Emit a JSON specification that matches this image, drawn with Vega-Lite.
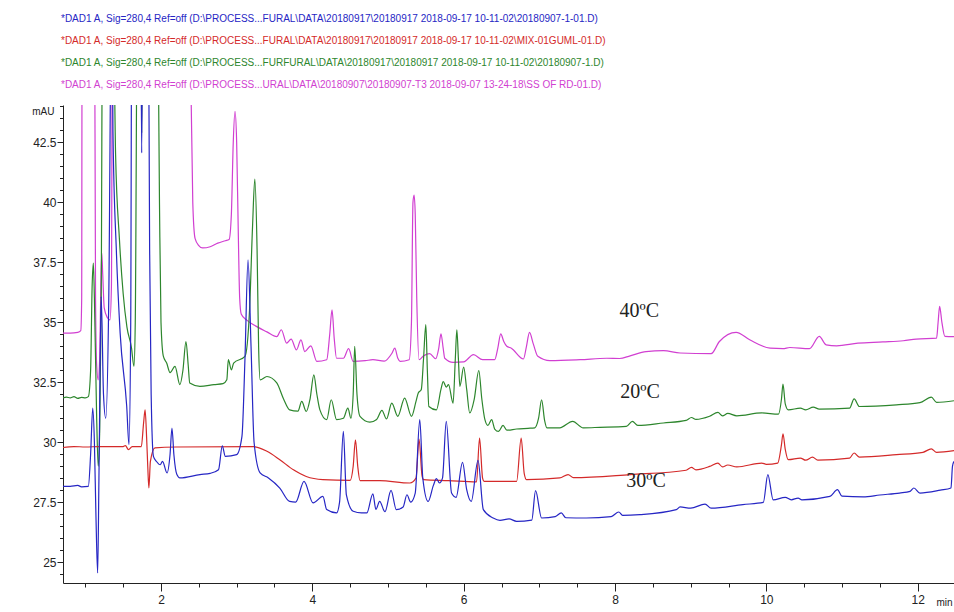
{
  "$schema": "https://vega.github.io/schema/vega-lite/v6.json",
  "width": 891,
  "height": 478,
  "autosize": {"type": "none"},
  "padding": {"left": 63, "top": 105, "right": 0, "bottom": 29},
  "background": "white",
  "config": {"view": {"stroke": null}, "font": "Liberation Sans, Arial, sans-serif"},
  "datasets": {
    "names": [
      {"s": "b", "name": "*DAD1 A, Sig=280,4 Ref=off (D:\\PROCESS...FURAL\\DATA\\20180917\\20180917 2018-09-17 10-11-02\\20180907-1-01.D)"},
      {"s": "r", "name": "*DAD1 A, Sig=280,4 Ref=off (D:\\PROCESS...FURAL\\DATA\\20180917\\20180917 2018-09-17 10-11-02\\MIX-01GUML-01.D)"},
      {"s": "g", "name": "*DAD1 A, Sig=280,4 Ref=off (D:\\PROCESS...FURFURAL\\DATA\\20180917\\20180917 2018-09-17 10-11-02\\20180907-1.D)"},
      {"s": "m", "name": "*DAD1 A, Sig=280,4 Ref=off (D:\\PROCESS...URAL\\DATA\\20180907\\20180907-T3 2018-09-07 13-24-18\\SS OF RD-01.D)"}
    ],
    "pts": [
      {"s":"m","x":0.705,"y":34.55},{"s":"m","x":0.80,"y":34.55},{"s":"m","x":0.90,"y":34.58},{"s":"m","x":0.94,"y":34.65},{"s":"m","x":0.952,"y":36},{"s":"m","x":0.958,"y":50},{"s":"m","x":1.12,"y":50},{"s":"m","x":1.135,"y":36},{"s":"m","x":1.15,"y":33.2},{"s":"m","x":1.17,"y":32.6},{"s":"m","x":1.19,"y":33.5},{"s":"m","x":1.205,"y":36.5},{"s":"m","x":1.217,"y":37.9},{"s":"m","x":1.23,"y":37.0},{"s":"m","x":1.25,"y":35.6},{"s":"m","x":1.29,"y":35.2},{"s":"m","x":1.326,"y":35.1},{"s":"m","x":1.345,"y":36.5},{"s":"m","x":1.36,"y":50},{"s":"m","x":2.38,"y":50},{"s":"m","x":2.40,"y":44},{"s":"m","x":2.42,"y":40.0},{"s":"m","x":2.45,"y":38.5},{"s":"m","x":2.5,"y":38.2},{"s":"m","x":2.55,"y":38.1},{"s":"m","x":2.65,"y":38.15},{"s":"m","x":2.75,"y":38.3},{"s":"m","x":2.85,"y":38.4},{"s":"m","x":2.9,"y":38.45},{"s":"m","x":2.93,"y":39.5},{"s":"m","x":2.955,"y":42.5},{"s":"m","x":2.978,"y":43.8},{"s":"m","x":3.0,"y":42.5},{"s":"m","x":3.02,"y":39},{"s":"m","x":3.04,"y":36},{"s":"m","x":3.06,"y":35.35},{"s":"m","x":3.13,"y":35.1},{"s":"m","x":3.26,"y":34.83},{"s":"m","x":3.40,"y":34.6},{"s":"m","x":3.53,"y":34.4},{"s":"m","x":3.59,"y":34.69},{"s":"m","x":3.66,"y":34.13},{"s":"m","x":3.72,"y":34.3},{"s":"m","x":3.79,"y":33.85},{"s":"m","x":3.85,"y":34.27},{"s":"m","x":3.90,"y":33.78},{"s":"m","x":3.98,"y":34.02},{"s":"m","x":4.06,"y":33.37},{"s":"m","x":4.19,"y":33.44},{"s":"m","x":4.23,"y":34.5},{"s":"m","x":4.26,"y":35.52},{"s":"m","x":4.29,"y":34.3},{"s":"m","x":4.32,"y":33.5},{"s":"m","x":4.41,"y":33.5},{"s":"m","x":4.48,"y":33.9},{"s":"m","x":4.54,"y":33.37},{"s":"m","x":4.7,"y":33.4},{"s":"m","x":4.8,"y":33.44},{"s":"m","x":4.95,"y":33.38},{"s":"m","x":5.05,"y":33.7},{"s":"m","x":5.09,"y":33.92},{"s":"m","x":5.13,"y":33.5},{"s":"m","x":5.16,"y":33.37},{"s":"m","x":5.28,"y":33.44},{"s":"m","x":5.31,"y":35},{"s":"m","x":5.33,"y":40.0},{"s":"m","x":5.345,"y":40.3},{"s":"m","x":5.36,"y":39.5},{"s":"m","x":5.38,"y":36},{"s":"m","x":5.41,"y":33.44},{"s":"m","x":5.47,"y":33.6},{"s":"m","x":5.55,"y":33.69},{"s":"m","x":5.63,"y":33.48},{"s":"m","x":5.67,"y":33.9},{"s":"m","x":5.70,"y":34.52},{"s":"m","x":5.73,"y":33.9},{"s":"m","x":5.75,"y":33.5},{"s":"m","x":5.86,"y":33.33},{"s":"m","x":6.0,"y":33.35},{"s":"m","x":6.13,"y":33.65},{"s":"m","x":6.25,"y":33.44},{"s":"m","x":6.41,"y":33.44},{"s":"m","x":6.45,"y":33.9},{"s":"m","x":6.49,"y":34.52},{"s":"m","x":6.53,"y":34.2},{"s":"m","x":6.57,"y":34.0},{"s":"m","x":6.63,"y":33.92},{"s":"m","x":6.79,"y":33.47},{"s":"m","x":6.83,"y":34.0},{"s":"m","x":6.87,"y":34.58},{"s":"m","x":6.92,"y":34.1},{"s":"m","x":6.98,"y":33.58},{"s":"m","x":7.14,"y":33.4},{"s":"m","x":7.54,"y":33.44},{"s":"m","x":7.89,"y":33.5},{"s":"m","x":8.06,"y":33.49},{"s":"m","x":8.2,"y":33.6},{"s":"m","x":8.41,"y":33.78},{"s":"m","x":8.64,"y":33.82},{"s":"m","x":8.86,"y":33.72},{"s":"m","x":9.27,"y":33.69},{"s":"m","x":9.38,"y":34.2},{"s":"m","x":9.60,"y":34.58},{"s":"m","x":9.78,"y":34.27},{"s":"m","x":10.05,"y":33.92},{"s":"m","x":10.22,"y":33.9},{"s":"m","x":10.31,"y":33.95},{"s":"m","x":10.57,"y":33.9},{"s":"m","x":10.70,"y":34.41},{"s":"m","x":10.79,"y":34.06},{"s":"m","x":10.93,"y":34.02},{"s":"m","x":11.21,"y":34.13},{"s":"m","x":11.54,"y":34.18},{"s":"m","x":11.81,"y":34.23},{"s":"m","x":11.98,"y":34.3},{"s":"m","x":12.25,"y":34.34},{"s":"m","x":12.27,"y":35.0},{"s":"m","x":12.29,"y":35.66},{"s":"m","x":12.32,"y":35.0},{"s":"m","x":12.36,"y":34.41},{"s":"m","x":12.48,"y":34.4},

      {"s":"g","x":0.705,"y":31.85},{"s":"g","x":0.75,"y":31.88},{"s":"g","x":0.80,"y":31.85},{"s":"g","x":0.85,"y":31.9},{"s":"g","x":0.90,"y":31.83},{"s":"g","x":0.95,"y":31.87},{"s":"g","x":1.0,"y":31.85},{"s":"g","x":1.04,"y":31.9},{"s":"g","x":1.07,"y":33},{"s":"g","x":1.09,"y":36.5},{"s":"g","x":1.106,"y":37.47},{"s":"g","x":1.12,"y":36},{"s":"g","x":1.15,"y":31},{"s":"g","x":1.17,"y":29.0},{"s":"g","x":1.19,"y":30.5},{"s":"g","x":1.21,"y":36},{"s":"g","x":1.23,"y":50},{"s":"g","x":1.36,"y":50},{"s":"g","x":1.40,"y":42},{"s":"g","x":1.45,"y":38.5},{"s":"g","x":1.50,"y":36.2},{"s":"g","x":1.55,"y":34.8},{"s":"g","x":1.61,"y":33.94},{"s":"g","x":1.643,"y":33.16},{"s":"g","x":1.66,"y":35},{"s":"g","x":1.69,"y":50},{"s":"g","x":1.73,"y":50},{"s":"g","x":1.745,"y":42.9},{"s":"g","x":1.76,"y":50},{"s":"g","x":1.95,"y":50},{"s":"g","x":1.98,"y":40},{"s":"g","x":2.0,"y":35},{"s":"g","x":2.03,"y":33.6},{"s":"g","x":2.075,"y":33.3},{"s":"g","x":2.12,"y":32.9},{"s":"g","x":2.185,"y":33.16},{"s":"g","x":2.25,"y":32.4},{"s":"g","x":2.29,"y":33.0},{"s":"g","x":2.33,"y":34.2},{"s":"g","x":2.36,"y":33.2},{"s":"g","x":2.38,"y":32.47},{"s":"g","x":2.515,"y":32.33},{"s":"g","x":2.7,"y":32.4},{"s":"g","x":2.82,"y":32.44},{"s":"g","x":2.87,"y":32.6},{"s":"g","x":2.89,"y":33.44},{"s":"g","x":2.93,"y":33.02},{"s":"g","x":2.96,"y":33.3},{"s":"g","x":3.11,"y":33.58},{"s":"g","x":3.17,"y":35.5},{"s":"g","x":3.21,"y":39},{"s":"g","x":3.24,"y":40.97},{"s":"g","x":3.27,"y":38},{"s":"g","x":3.29,"y":34},{"s":"g","x":3.31,"y":32.6},{"s":"g","x":3.40,"y":32.74},{"s":"g","x":3.53,"y":32.47},{"s":"g","x":3.62,"y":31.8},{"s":"g","x":3.70,"y":31.35},{"s":"g","x":3.81,"y":31.3},{"s":"g","x":3.86,"y":31.7},{"s":"g","x":3.92,"y":31.28},{"s":"g","x":3.97,"y":31.8},{"s":"g","x":4.02,"y":32.81},{"s":"g","x":4.06,"y":32},{"s":"g","x":4.10,"y":31.35},{"s":"g","x":4.19,"y":30.94},{"s":"g","x":4.25,"y":31.77},{"s":"g","x":4.32,"y":30.94},{"s":"g","x":4.41,"y":31.0},{"s":"g","x":4.47,"y":31.42},{"s":"g","x":4.51,"y":31.0},{"s":"g","x":4.54,"y":32},{"s":"g","x":4.56,"y":34.0},{"s":"g","x":4.59,"y":32},{"s":"g","x":4.63,"y":31.08},{"s":"g","x":4.76,"y":30.84},{"s":"g","x":4.85,"y":30.95},{"s":"g","x":4.92,"y":31.33},{"s":"g","x":4.98,"y":30.97},{"s":"g","x":5.05,"y":31.63},{"s":"g","x":5.13,"y":31.08},{"s":"g","x":5.22,"y":31.84},{"s":"g","x":5.31,"y":31.08},{"s":"g","x":5.37,"y":31.7},{"s":"g","x":5.40,"y":32.05},{"s":"g","x":5.44,"y":32.2},{"s":"g","x":5.47,"y":33.5},{"s":"g","x":5.50,"y":34.9},{"s":"g","x":5.52,"y":33},{"s":"g","x":5.54,"y":31.49},{"s":"g","x":5.64,"y":31.35},{"s":"g","x":5.70,"y":32.2},{"s":"g","x":5.73,"y":32.53},{"s":"g","x":5.77,"y":32.3},{"s":"g","x":5.80,"y":32.4},{"s":"g","x":5.86,"y":31.63},{"s":"g","x":5.89,"y":33.5},{"s":"g","x":5.91,"y":34.69},{"s":"g","x":5.93,"y":33.5},{"s":"g","x":5.95,"y":32.33},{"s":"g","x":6.0,"y":33.13},{"s":"g","x":6.04,"y":32.2},{"s":"g","x":6.08,"y":31.22},{"s":"g","x":6.14,"y":31.8},{"s":"g","x":6.20,"y":32.99},{"s":"g","x":6.24,"y":31.8},{"s":"g","x":6.28,"y":30.95},{"s":"g","x":6.32,"y":30.7},{"s":"g","x":6.37,"y":30.94},{"s":"g","x":6.41,"y":30.55},{"s":"g","x":6.46,"y":30.45},{"s":"g","x":6.52,"y":30.7},{"s":"g","x":6.57,"y":30.5},{"s":"g","x":6.7,"y":30.55},{"s":"g","x":6.85,"y":30.58},{"s":"g","x":6.94,"y":30.6},{"s":"g","x":6.99,"y":31.0},{"s":"g","x":7.03,"y":31.77},{"s":"g","x":7.07,"y":30.9},{"s":"g","x":7.10,"y":30.6},{"s":"g","x":7.27,"y":30.6},{"s":"g","x":7.44,"y":30.87},{"s":"g","x":7.58,"y":30.6},{"s":"g","x":7.8,"y":30.62},{"s":"g","x":8.15,"y":30.66},{"s":"g","x":8.23,"y":30.87},{"s":"g","x":8.3,"y":30.7},{"s":"g","x":8.64,"y":30.8},{"s":"g","x":8.94,"y":30.91},{"s":"g","x":9.01,"y":31.03},{"s":"g","x":9.07,"y":30.95},{"s":"g","x":9.25,"y":31.08},{"s":"g","x":9.36,"y":31.24},{"s":"g","x":9.42,"y":31.1},{"s":"g","x":9.49,"y":31.2},{"s":"g","x":9.61,"y":31.1},{"s":"g","x":9.94,"y":31.22},{"s":"g","x":10.16,"y":31.17},{"s":"g","x":10.20,"y":31.8},{"s":"g","x":10.22,"y":32.42},{"s":"g","x":10.25,"y":31.6},{"s":"g","x":10.29,"y":31.35},{"s":"g","x":10.45,"y":31.42},{"s":"g","x":10.52,"y":31.35},{"s":"g","x":10.62,"y":31.46},{"s":"g","x":10.70,"y":31.38},{"s":"g","x":11.10,"y":31.42},{"s":"g","x":11.16,"y":31.81},{"s":"g","x":11.23,"y":31.49},{"s":"g","x":11.72,"y":31.56},{"s":"g","x":12.03,"y":31.65},{"s":"g","x":12.18,"y":31.88},{"s":"g","x":12.25,"y":31.66},{"s":"g","x":12.48,"y":31.73},

      {"s":"r","x":0.705,"y":29.78},{"s":"r","x":0.85,"y":29.82},{"s":"r","x":1.0,"y":29.8},{"s":"r","x":1.2,"y":29.82},{"s":"r","x":1.5,"y":29.82},{"s":"r","x":1.53,"y":29.86},{"s":"r","x":1.57,"y":29.69},{"s":"r","x":1.62,"y":29.82},{"s":"r","x":1.74,"y":29.82},{"s":"r","x":1.77,"y":30.8},{"s":"r","x":1.79,"y":31.35},{"s":"r","x":1.81,"y":30.2},{"s":"r","x":1.825,"y":29.0},{"s":"r","x":1.84,"y":28.09},{"s":"r","x":1.86,"y":29.2},{"s":"r","x":1.92,"y":29.76},{"s":"r","x":2.2,"y":29.8},{"s":"r","x":3.22,"y":29.82},{"s":"r","x":3.40,"y":29.62},{"s":"r","x":3.57,"y":29.27},{"s":"r","x":3.75,"y":28.85},{"s":"r","x":3.92,"y":28.57},{"s":"r","x":4.14,"y":28.44},{"s":"r","x":4.50,"y":28.41},{"s":"r","x":4.54,"y":29},{"s":"r","x":4.57,"y":30.1},{"s":"r","x":4.60,"y":29},{"s":"r","x":4.63,"y":28.4},{"s":"r","x":4.89,"y":28.4},{"s":"r","x":5.29,"y":28.3},{"s":"r","x":5.37,"y":28.5},{"s":"r","x":5.41,"y":30.13},{"s":"r","x":5.45,"y":28.6},{"s":"r","x":5.47,"y":28.44},{"s":"r","x":5.8,"y":28.4},{"s":"r","x":6.17,"y":28.35},{"s":"r","x":6.21,"y":30.17},{"s":"r","x":6.25,"y":28.5},{"s":"r","x":6.27,"y":28.37},{"s":"r","x":6.70,"y":28.37},{"s":"r","x":6.76,"y":30.17},{"s":"r","x":6.80,"y":28.7},{"s":"r","x":6.83,"y":28.44},{"s":"r","x":7.27,"y":28.51},{"s":"r","x":7.38,"y":28.65},{"s":"r","x":7.45,"y":28.52},{"s":"r","x":8.2,"y":28.65},{"s":"r","x":8.94,"y":28.83},{"s":"r","x":9.01,"y":28.95},{"s":"r","x":9.07,"y":28.85},{"s":"r","x":9.25,"y":28.99},{"s":"r","x":9.36,"y":29.13},{"s":"r","x":9.42,"y":28.97},{"s":"r","x":9.49,"y":29.05},{"s":"r","x":9.61,"y":28.97},{"s":"r","x":9.94,"y":29.13},{"s":"r","x":10.0,"y":29.08},{"s":"r","x":10.15,"y":29.13},{"s":"r","x":10.2,"y":29.9},{"s":"r","x":10.22,"y":30.35},{"s":"r","x":10.25,"y":29.7},{"s":"r","x":10.29,"y":29.27},{"s":"r","x":10.45,"y":29.34},{"s":"r","x":10.52,"y":29.25},{"s":"r","x":10.61,"y":29.38},{"s":"r","x":10.68,"y":29.25},{"s":"r","x":11.10,"y":29.34},{"s":"r","x":11.16,"y":29.55},{"s":"r","x":11.23,"y":29.38},{"s":"r","x":11.72,"y":29.48},{"s":"r","x":12.07,"y":29.58},{"s":"r","x":12.18,"y":29.72},{"s":"r","x":12.25,"y":29.58},{"s":"r","x":12.48,"y":29.65},

      {"s":"b","x":0.705,"y":28.16},{"s":"b","x":0.8,"y":28.16},{"s":"b","x":0.9,"y":28.2},{"s":"b","x":0.95,"y":28.14},{"s":"b","x":1.04,"y":28.16},{"s":"b","x":1.07,"y":29.5},{"s":"b","x":1.098,"y":31.42},{"s":"b","x":1.12,"y":30},{"s":"b","x":1.14,"y":27},{"s":"b","x":1.163,"y":24.55},{"s":"b","x":1.18,"y":28.5},{"s":"b","x":1.21,"y":36.07},{"s":"b","x":1.24,"y":32},{"s":"b","x":1.27,"y":31},{"s":"b","x":1.31,"y":36},{"s":"b","x":1.35,"y":50},{"s":"b","x":1.365,"y":43},{"s":"b","x":1.41,"y":38},{"s":"b","x":1.46,"y":34.56},{"s":"b","x":1.547,"y":31.5},{"s":"b","x":1.577,"y":29.9},{"s":"b","x":1.60,"y":35},{"s":"b","x":1.615,"y":50},{"s":"b","x":1.73,"y":50},{"s":"b","x":1.745,"y":42.06},{"s":"b","x":1.76,"y":50},{"s":"b","x":1.83,"y":50},{"s":"b","x":1.85,"y":38},{"s":"b","x":1.87,"y":32},{"s":"b","x":1.90,"y":29.41},{"s":"b","x":1.94,"y":29.2},{"s":"b","x":1.99,"y":29.06},{"s":"b","x":2.02,"y":29.2},{"s":"b","x":2.08,"y":28.72},{"s":"b","x":2.12,"y":29.5},{"s":"b","x":2.145,"y":30.59},{"s":"b","x":2.17,"y":29.5},{"s":"b","x":2.21,"y":28.65},{"s":"b","x":2.25,"y":28.51},{"s":"b","x":2.515,"y":28.65},{"s":"b","x":2.65,"y":28.7},{"s":"b","x":2.76,"y":28.85},{"s":"b","x":2.81,"y":29.85},{"s":"b","x":2.85,"y":29.41},{"s":"b","x":3.0,"y":29.48},{"s":"b","x":3.07,"y":30.24},{"s":"b","x":3.11,"y":33.5},{"s":"b","x":3.15,"y":37.6},{"s":"b","x":3.19,"y":34},{"s":"b","x":3.23,"y":30},{"s":"b","x":3.31,"y":28.72},{"s":"b","x":3.42,"y":28.51},{"s":"b","x":3.57,"y":28.09},{"s":"b","x":3.70,"y":27.53},{"s":"b","x":3.78,"y":27.5},{"s":"b","x":3.89,"y":28.37},{"s":"b","x":4.01,"y":27.47},{"s":"b","x":4.14,"y":27.74},{"s":"b","x":4.19,"y":27.19},{"s":"b","x":4.32,"y":27.05},{"s":"b","x":4.36,"y":27.5},{"s":"b","x":4.41,"y":30.45},{"s":"b","x":4.45,"y":27.8},{"s":"b","x":4.54,"y":27.12},{"s":"b","x":4.65,"y":27.05},{"s":"b","x":4.72,"y":27.05},{"s":"b","x":4.80,"y":27.85},{"s":"b","x":4.84,"y":27.2},{"s":"b","x":4.89,"y":27.53},{"s":"b","x":4.96,"y":27.1},{"s":"b","x":5.04,"y":27.99},{"s":"b","x":5.11,"y":27.19},{"s":"b","x":5.2,"y":27.3},{"s":"b","x":5.25,"y":27.81},{"s":"b","x":5.3,"y":27.5},{"s":"b","x":5.36,"y":27.88},{"s":"b","x":5.42,"y":30.94},{"s":"b","x":5.46,"y":28.5},{"s":"b","x":5.53,"y":27.53},{"s":"b","x":5.6,"y":28.2},{"s":"b","x":5.64,"y":28.48},{"s":"b","x":5.68,"y":28.3},{"s":"b","x":5.72,"y":28.5},{"s":"b","x":5.77,"y":30.87},{"s":"b","x":5.84,"y":27.88},{"s":"b","x":5.9,"y":27.7},{"s":"b","x":5.985,"y":29.16},{"s":"b","x":6.04,"y":28.02},{"s":"b","x":6.10,"y":27.53},{"s":"b","x":6.19,"y":29.24},{"s":"b","x":6.26,"y":27.19},{"s":"b","x":6.39,"y":26.84},{"s":"b","x":6.48,"y":26.74},{"s":"b","x":6.6,"y":26.8},{"s":"b","x":6.70,"y":26.7},{"s":"b","x":6.90,"y":26.75},{"s":"b","x":6.95,"y":27.98},{"s":"b","x":7.03,"y":26.84},{"s":"b","x":7.21,"y":26.9},{"s":"b","x":7.29,"y":27.05},{"s":"b","x":7.35,"y":26.85},{"s":"b","x":7.62,"y":26.84},{"s":"b","x":7.95,"y":26.9},{"s":"b","x":8.05,"y":27.09},{"s":"b","x":8.1,"y":26.95},{"s":"b","x":8.33,"y":26.98},{"s":"b","x":8.81,"y":27.19},{"s":"b","x":8.86,"y":27.3},{"s":"b","x":9.0,"y":27.25},{"s":"b","x":9.19,"y":27.42},{"s":"b","x":9.27,"y":27.25},{"s":"b","x":9.69,"y":27.40},{"s":"b","x":9.96,"y":27.49},{"s":"b","x":10.02,"y":28.65},{"s":"b","x":10.09,"y":27.6},{"s":"b","x":10.25,"y":27.7},{"s":"b","x":10.33,"y":27.6},{"s":"b","x":10.42,"y":27.67},{"s":"b","x":10.47,"y":27.6},{"s":"b","x":10.84,"y":27.74},{"s":"b","x":10.94,"y":28.02},{"s":"b","x":11.0,"y":27.75},{"s":"b","x":11.28,"y":27.72},{"s":"b","x":11.5,"y":27.8},{"s":"b","x":11.76,"y":27.88},{"s":"b","x":11.9,"y":27.95},{"s":"b","x":11.95,"y":28.09},{"s":"b","x":12.03,"y":27.88},{"s":"b","x":12.3,"y":28.0},{"s":"b","x":12.44,"y":28.09},{"s":"b","x":12.46,"y":29.0},{"s":"b","x":12.48,"y":29.2}
    ],
    "labels": [
      {"x": 8.06, "y": 35.22, "t": "40ºC"},
      {"x": 8.07, "y": 31.85, "t": "20ºC"},
      {"x": 8.15, "y": 28.15, "t": "30ºC"}
    ]
  },
  "resolve": {"axis": {"x": "independent", "y": "independent"}},
  "layer": [
    {
      "data": {"name": "pts"},
      "transform": [{"lookup": "s", "from": {"data": {"name": "names"}, "key": "s", "fields": ["name"]}}],
      "mark": {"type": "line", "strokeWidth": 1.2, "clip": true, "interpolate": "monotone"},
      "encoding": {
        "x": {"field": "x", "type": "quantitative",
          "scale": {"domain": [0.705, 12.48], "nice": false, "zero": false},
          "axis": {"orient": "bottom", "values": [2, 4, 6, 8, 10, 12], "tickSize": 8, "tickColor": "#222", "domainColor": "#222",
            "labelFontSize": 12, "labelColor": "#222", "labelPadding": 3, "grid": false,
            "title": "min", "titleFontSize": 10, "titleFontWeight": "normal", "titleColor": "#222",
            "titleAnchor": "end", "titleAlign": "right", "titleX": 889, "titleY": 22, "titleBaseline": "alphabetic"}},
        "y": {"field": "y", "type": "quantitative",
          "scale": {"domain": [24.13, 44.06], "nice": false, "zero": false},
          "axis": {"orient": "left", "values": [25, 27.5, 30, 32.5, 35, 37.5, 40, 42.5], "format": ".1~f", "tickSize": 6, "tickColor": "#222", "domainColor": "#222",
            "labelFontSize": 12, "labelColor": "#222", "labelPadding": 1, "grid": false,
            "title": "mAU", "titleAngle": 0, "titleFontSize": 10, "titleFontWeight": "normal", "titleColor": "#222",
            "titleAlign": "right", "titleX": -9, "titleY": 6, "titleBaseline": "middle"}},
        "color": {"field": "name", "type": "nominal",
          "scale": {"domain": [
            "*DAD1 A, Sig=280,4 Ref=off (D:\\PROCESS...FURAL\\DATA\\20180917\\20180917 2018-09-17 10-11-02\\20180907-1-01.D)",
            "*DAD1 A, Sig=280,4 Ref=off (D:\\PROCESS...FURAL\\DATA\\20180917\\20180917 2018-09-17 10-11-02\\MIX-01GUML-01.D)",
            "*DAD1 A, Sig=280,4 Ref=off (D:\\PROCESS...FURFURAL\\DATA\\20180917\\20180917 2018-09-17 10-11-02\\20180907-1.D)",
            "*DAD1 A, Sig=280,4 Ref=off (D:\\PROCESS...URAL\\DATA\\20180907\\20180907-T3 2018-09-07 13-24-18\\SS OF RD-01.D)"],
            "range": ["#2626c4", "#d42a2a", "#2d862d", "#d13fd1"]},
          "legend": {"orient": "none", "legendX": -12, "legendY": -91, "direction": "vertical", "title": null,
            "symbolSize": 0, "symbolStrokeWidth": 0, "symbolOpacity": 0, "labelOffset": 0, "padding": 0,
            "labelFont": "Liberation Sans, Arial, sans-serif", "labelFontSize": 10, "labelLimit": 900, "rowPadding": 12, "labelBaseline": "middle",
            "encode": {"labels": {"update": {"fill": {"scale": "color", "field": "value"}}}}}}
      }
    },
    {
      "data": {"values": [{"x": 1, "y": 30}]},
      "mark": {"type": "point", "opacity": 0},
      "encoding": {
        "x": {"field": "x", "type": "quantitative",
          "axis": {"orient": "bottom", "values": [1, 1.5, 2.5, 3, 3.5, 4.5, 5, 5.5, 6.5, 7, 7.5, 8.5, 9, 9.5, 10.5, 11, 11.5, 12.5], "tickSize": 4, "tickColor": "#222", "labels": false, "domain": false, "grid": false, "title": null}},
        "y": {"field": "y", "type": "quantitative",
          "axis": {"orient": "left", "values": [24.5, 25.5, 26, 26.5, 27, 28, 28.5, 29, 29.5, 30.5, 31, 31.5, 32, 33, 33.5, 34, 34.5, 35.5, 36, 36.5, 37, 38, 38.5, 39, 39.5, 40.5, 41, 41.5, 42, 43, 43.5, 44], "tickSize": 3.5, "tickColor": "#222", "labels": false, "domain": false, "grid": false, "title": null}}
      }
    },
    {
      "data": {"name": "labels"},
      "mark": {"type": "text", "align": "left", "baseline": "alphabetic", "font": "Liberation Serif, DejaVu Serif, serif", "fontSize": 20, "color": "#222"},
      "encoding": {
        "x": {"field": "x", "type": "quantitative", "axis": null},
        "y": {"field": "y", "type": "quantitative", "axis": null},
        "text": {"field": "t"}
      }
    }
  ]
}
